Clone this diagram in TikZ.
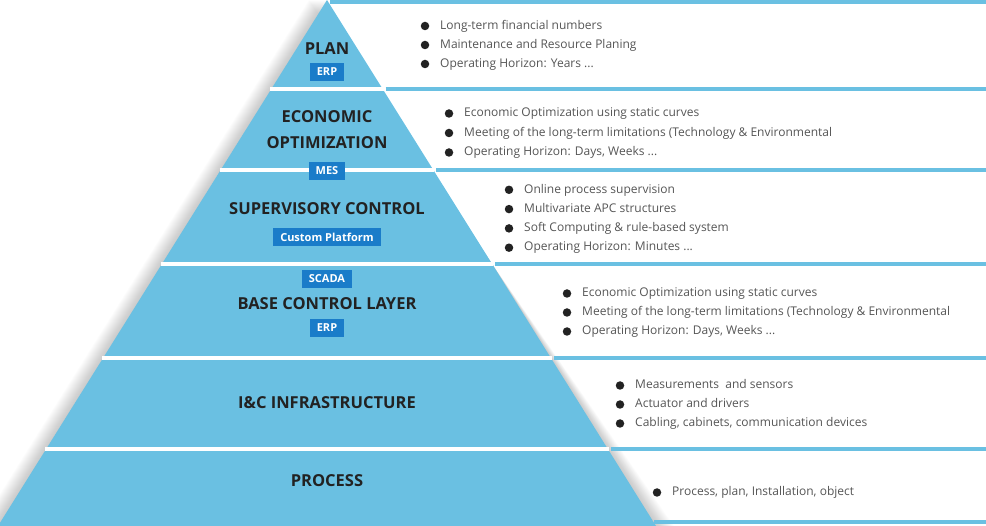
\documentclass[tikz,border=0pt]{standalone}
\usepackage{fontspec}
\setmainfont{Open Sans}
\usetikzlibrary{positioning}
\definecolor{pyr}{HTML}{6AC0E2}
\definecolor{badge}{HTML}{1A7CC9}
\definecolor{ink}{HTML}{222222}
\definecolor{txt}{HTML}{555555}
\newcommand\andsoon{...}
\begin{document}
\begin{tikzpicture}[x=1pt,y=-1pt,
	layer/.style={font=\bfseries\fontsize{16.5}{16.5}\selectfont,text=ink,inner sep=0},
	tag/.style={fill=badge,text=white,font=\bfseries\fontsize{11}{11}\selectfont,minimum height=18.5pt,inner xsep=7pt,inner ysep=0},
	item/.style={anchor=west,font=\fontsize{12}{12}\selectfont,text=txt,inner sep=0,text height=9pt,text depth=2.5pt},
	dot/.style={circle,fill=ink,inner sep=0,minimum size=8.5pt}]
	\useasboundingbox (0,0) rectangle (986,526);
	% soft shadow round the pyramid
	\foreach \d in {1,...,18}{
		\fill[black,opacity=0.012] (327-\d,0) -- (656+\d,526) -- (-2-\d,526) -- cycle;
	}
	\fill[pyr] (327,0) -- (656,526) -- (-2,526) -- cycle;
	\foreach \y in {89,170,264,358,449}{
		\draw[white,line width=4] ({326-0.625*\y},\y) -- ({328+0.625*\y},\y);
		\draw[pyr,line width=4] ({330+0.625*\y},\y) -- (986,\y);
	}
	\draw[pyr,line width=4] (330,2) -- (986,2);
	\draw[pyr,line width=4] (654,522) -- (986,522);
	% layers
	\node[layer] (plan) at (327,49){PLAN};
	\node[tag] (erp1) at (327,72){ERP};
	\node[layer] (econ) at (327,117){ECONOMIC};
	\node[layer] (opt) at (327,143){OPTIMIZATION};
	\node[tag] (mes) at (327,171){MES};
	\node[layer] (super) at (327,209){SUPERVISORY CONTROL};
	\node[tag] (custom) at (327,237){Custom Platform};
	\node[tag] (scada) at (327,279){SCADA};
	\node[layer] (base) at (327,304){BASE CONTROL LAYER};
	\node[tag] (erp2) at (327,328){ERP};
	\node[layer] (ic) at (327,403){I\&C INFRASTRUCTURE};
	\node[layer] (proc) at (327,481){PROCESS};
	% bullet lists
	\foreach \t [count=\i] in {Long-term financial numbers,Maintenance and Resource Planing,Operating Horizon: Years \andsoon}{
		\node[dot] (pd-\i) at (425,{7+19*\i}){};
		\node[item] (p-\i) at (440,{7+19*\i}){\t};
	}
	\foreach \t [count=\i] in {Economic Optimization using static curves,Meeting of the long-term limitations (Technology \& Environmental,{Operating Horizon: Days, Weeks \andsoon}}{
		\node[dot] (ed-\i) at (449,{94+19.5*\i}){};
		\node[item] (e-\i) at (464,{94+19.5*\i}){\t};
	}
	\foreach \t [count=\i] in {Online process supervision,Multivariate APC structures,Soft Computing \& rule-based system,Operating Horizon: Minutes \andsoon}{
		\node[dot] (sd-\i) at (509,{170.5+19.3*\i}){};
		\node[item] (s-\i) at (524,{170.5+19.3*\i}){\t};
	}
	\foreach \t [count=\i] in {Economic Optimization using static curves,Meeting of the long-term limitations (Technology \& Environmental,{Operating Horizon: Days, Weeks \andsoon}}{
		\node[dot] (bd-\i) at (567,{274.5+19*\i}){};
		\node[item] (b-\i) at (582,{274.5+19*\i}){\t};
	}
	\foreach \t [count=\i] in {Measurements\ \ and sensors,Actuator and drivers,{Cabling, cabinets, communication devices}}{
		\node[dot] (id-\i) at (620,{366.5+19*\i}){};
		\node[item] (i-\i) at (635,{366.5+19*\i}){\t};
	}
	\node[dot] (rd-1) at (657,492.5){};
	\node[item] (r-1) at (672,492.5){Process, plan, Installation, object};
\end{tikzpicture}
\end{document}
